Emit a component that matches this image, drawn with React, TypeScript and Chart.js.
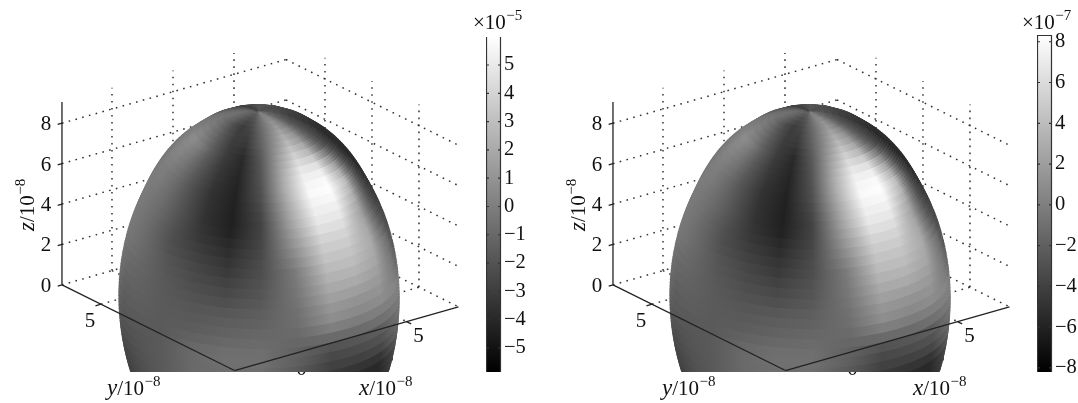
import React, { useEffect, useRef } from "react";
import { Chart, registerables } from "chart.js";

Chart.register(...registerables);

const SERIF = '"Liberation Serif", serif';

// box ranges (units of 10^-8), read from the wall grids
const xRange = [-9.1, 9.26];
const yRange = [-9.2, 9.15];
const zTop = 9.05;
const zTicks = [0, 2, 4, 6, 8];
const xyTicks = [-5, 0, 5];
const sphereRadius = 9.15;
const sphereHeight = 9.13;
const xTickLabels = [
  { at: 5, text: "5" },
  { at: -5, text: "0" },
];
const yTickLabels = [{ at: 5, text: "5" }];

// surface: rows are latitude bands, columns are longitudes facing the viewer
const latitudes = [87, 84, 81, 78, 75, 72, 69, 66, 63, 60, 57, 54, 51, 48, 45, 42, 39, 36, 33, 30, 27, 24, 21, 18, 15, 12, 9, 6, 3, 0, -3, -6, -9, -12, -15, -18, -21, -24];
const longitudes = [-90, -75, -60, -45, -30, -15, 0, 15, 30, 45, 60, 75, 90];
const surfaceShades = [
  [120, 110, 100, 95, 95, 100, 120, 130, 125, 110, 100, 100, 100],
  [120, 110, 98, 90, 85, 90, 110, 130, 132, 115, 97, 92, 88],
  [120, 110, 97, 85, 76, 82, 106, 130, 140, 120, 95, 85, 78],
  [120, 110, 96, 80, 68, 76, 103, 130, 148, 125, 92, 77, 68],
  [120, 110, 95, 75, 60, 70, 100, 130, 155, 130, 90, 70, 60],
  [123, 116, 101, 79, 60, 65, 98, 134, 165, 139, 92, 68, 56],
  [126, 122, 107, 83, 61, 60, 96, 138, 175, 148, 94, 66, 52],
  [129, 128, 113, 87, 60, 55, 94, 142, 185, 157, 96, 64, 48],
  [132, 134, 119, 89, 60, 48, 90, 148, 197, 170, 100, 62, 44],
  [135, 140, 125, 92, 60, 42, 87, 154, 209, 185, 108, 60, 40],
  [133, 137, 122, 90, 58, 40, 85, 160, 220, 205, 128, 62, 40],
  [131, 134, 119, 88, 56, 38, 83, 166, 232, 225, 148, 65, 40],
  [129, 131, 116, 86, 54, 36, 82, 170, 240, 240, 165, 68, 40],
  [127, 128, 113, 84, 52, 35, 80, 172, 245, 250, 178, 72, 40],
  [125, 125, 110, 82, 50, 34, 78, 170, 248, 253, 188, 76, 40],
  [125, 124, 109, 82, 50, 33, 74, 166, 243, 248, 182, 76, 44],
  [125, 122, 108, 82, 50, 32, 70, 162, 238, 240, 174, 76, 49],
  [125, 120, 107, 82, 50, 32, 67, 158, 232, 232, 166, 76, 54],
  [124, 119, 105, 80, 52, 34, 68, 152, 223, 222, 162, 80, 58],
  [123, 118, 103, 78, 55, 40, 70, 146, 212, 212, 165, 85, 62],
  [122, 117, 102, 78, 60, 46, 73, 138, 203, 204, 168, 92, 66],
  [121, 116, 102, 80, 65, 52, 76, 130, 195, 196, 170, 102, 70],
  [120, 115, 102, 84, 70, 58, 78, 122, 187, 189, 168, 112, 75],
  [118, 112, 101, 86, 74, 65, 82, 120, 178, 180, 165, 116, 83],
  [115, 108, 100, 88, 78, 72, 85, 118, 169, 170, 159, 120, 91],
  [112, 104, 98, 89, 82, 79, 89, 115, 160, 158, 153, 123, 100],
  [110, 100, 97, 90, 86, 87, 94, 112, 150, 146, 147, 127, 110],
  [106, 96, 95, 90, 89, 93, 98, 110, 142, 137, 141, 133, 122],
  [102, 93, 93, 90, 92, 98, 103, 106, 127, 124, 127, 128, 126],
  [98, 90, 90, 90, 97, 104, 107, 102, 106, 107, 112, 120, 122],
  [93, 87, 87, 90, 103, 110, 111, 97, 83, 87, 93, 110, 118],
  [87, 82, 85, 90, 105, 112, 112, 95, 72, 76, 82, 103, 112],
  [82, 78, 84, 90, 105, 110, 110, 90, 65, 65, 70, 95, 103],
  [76, 74, 82, 90, 105, 108, 105, 85, 58, 52, 52, 80, 92],
  [70, 70, 80, 90, 100, 105, 100, 80, 50, 42, 40, 65, 80],
  [68, 68, 78, 88, 95, 100, 95, 75, 45, 38, 38, 60, 74],
  [66, 66, 76, 85, 92, 95, 90, 70, 42, 36, 36, 55, 70],
  [65, 64, 74, 82, 90, 90, 85, 65, 40, 35, 35, 52, 66],
];
const farSideShades = [60, 85, 75];

const leftBarRange: [number, number] = [-5.85, 5.99];
const rightBarRange: [number, number] = [-8.2, 8.33];

const plotOffsets = [0, 551];

const gray = (v: number) => `rgb(${v},${v},${v})`;
const rad = (d: number) => (d * Math.PI) / 180;

function project(x: number, y: number, z: number, dx: number) {
  return {
    x: 259 + dx + 12.2 * x - 9.4 * y,
    y: 296 - 3.47 * x - 4.67 * y - 20.2 * z,
  };
}

function ringPoint(lat: number, lon: number, dx: number) {
  const r = sphereRadius * Math.cos(rad(lat));
  const c = Math.cos(rad(lon));
  const s = Math.sin(rad(lon));
  return project(r * (-0.596 * c + 0.792 * s), r * (-0.802 * c - 0.61 * s), sphereHeight * Math.sin(rad(lat)), dx);
}

function lineSet(a: any, b: any, style: any) {
  return { type: "line", data: [a, b], pointRadius: 0, fill: false, tension: 0, ...style };
}

function buildDatasets(dx: number) {
  const dotted = { borderColor: "#333", borderWidth: 1.5, borderDash: [1.6, 5.4] };
  const solid = { borderColor: "#222", borderWidth: 1.3 };
  const [x0, x1] = xRange;
  const [y0, y1] = yRange;
  const grid: any[] = [];
  for (const z of zTicks) {
    grid.push(lineSet(project(x0, y1, z, dx), project(x1, y1, z, dx), dotted));
    grid.push(lineSet(project(x1, y1, z, dx), project(x1, y0, z, dx), dotted));
  }
  for (const t of xyTicks) {
    grid.push(lineSet(project(t, y1, 0, dx), project(t, y1, zTop, dx), dotted));
    grid.push(lineSet(project(x1, t, 0, dx), project(x1, t, zTop, dx), dotted));
    grid.push(lineSet(project(t, y1, 0, dx), project(t, y0, 0, dx), dotted));
    grid.push(lineSet(project(x0, t, 0, dx), project(x1, t, 0, dx), dotted));
    grid.push(lineSet(project(x0, t, 0, dx), project(x0 - 0.45, t, 0, dx), solid));
    grid.push(lineSet(project(t, y0, 0, dx), project(t, y0 - 0.5, 0, dx), solid));
  }
  const surface: any[] = [];
  const reversedRows = latitudes.map((lat, i) => ({ lat, row: surfaceShades[i] })).reverse();
  const backLons = [-90, -112.5, -135, -157.5, -180, -202.5, -225, -247.5, -270];
  const frontLons = [-90, -82.5, -75, -67.5, -60, -52.5, -45, -37.5, -30, -22.5, -15, -7.5, 0, 7.5, 15, 22.5, 30, 37.5, 45, 52.5, 60, 67.5, 75, 82.5, 90];
  for (const { lat: bandLat, row } of reversedRows) {
    // each band keeps one row of shades; it is drawn as three thin layers so its edge stays smooth
    for (const lat of [bandLat, bandLat + 1, bandLat + 2]) {
      const backPts = backLons.map((l) => ringPoint(lat, l, dx));
      const frontPts = frontLons.map((l) => ringPoint(lat, l, dx));
      // the x scale spans the canvas width, so one view unit is width / 1078 pixels
      const backPaint = (c: any) => {
        const k = c.chart.width / 1078;
        const g = c.chart.ctx.createLinearGradient(backPts[0].x * k, 0, backPts[8].x * k, 0);
        g.addColorStop(0, gray(row[0]));
        farSideShades.forEach((v, i) => g.addColorStop((i + 1) / 4, gray(v)));
        g.addColorStop(1, gray(row[12]));
        return g;
      };
      const frontPaint = (c: any) => {
        const k = c.chart.width / 1078;
        const L = frontPts[0].x;
        const R = frontPts[24].x;
        const g = c.chart.ctx.createLinearGradient(L * k, 0, R * k, 0);
        longitudes.forEach((lon, i) => {
          const p = ringPoint(lat, lon, dx);
          g.addColorStop(Math.min(1, Math.max(0, (p.x - L) / (R - L))), gray(row[i]));
        });
        return g;
      };
      surface.push({ type: "line", data: backPts, pointRadius: 0, borderWidth: 0, tension: 0, fill: "shape", backgroundColor: backPaint });
      surface.push({ type: "line", data: frontPts, pointRadius: 0, borderWidth: 0, tension: 0, fill: "shape", backgroundColor: frontPaint });
    }
  }
  const axes: any[] = [
    lineSet(project(x0, y1, 0, dx), project(x0, y1, zTop, dx), solid),
    lineSet(project(x0, y1, 0, dx), project(x0, y0, 0, dx), solid),
    lineSet(project(x0, y0, 0, dx), project(x1, y0, 0, dx), solid),
  ];
  for (const z of zTicks) axes.push(lineSet(project(x0, y1, z, dx), project(x0 - 0.35, y1, z, dx), solid));
  return [...grid, ...surface, ...axes];
}

function sciText(ctx: CanvasRenderingContext2D, name: string | null, base: string, exp: string, x: number, y: number) {
  ctx.textAlign = "left";
  ctx.textBaseline = "alphabetic";
  let cx = x;
  if (name) {
    ctx.font = `italic 23px ${SERIF}`;
    ctx.fillText(name, cx, y);
    cx += ctx.measureText(name).width;
  }
  ctx.font = `21px ${SERIF}`;
  ctx.fillText(base, cx, y);
  cx += ctx.measureText(base).width;
  ctx.font = `15px ${SERIF}`;
  ctx.fillText(exp, cx + 0.5, y - 9);
}

const textPlugin = {
  id: "plotText",
  beforeDatasetsDraw(chart: any) {
    const ctx: CanvasRenderingContext2D = chart.ctx;
    const xs = chart.scales.x;
    const ys = chart.scales.y;
    ctx.save();
    ctx.fillStyle = "#111";
    plotOffsets.forEach((dx) => {
      ctx.font = `21px ${SERIF}`;
      ctx.textAlign = "center";
      ctx.textBaseline = "alphabetic";
      for (const z of zTicks) {
        const p = project(xRange[0], yRange[1], z, dx);
        ctx.fillText(String(z), xs.getPixelForValue(p.x) - 16, ys.getPixelForValue(p.y) + 7);
      }
      for (const l of xTickLabels) {
        const a = project(l.at, yRange[0], 0, dx);
        ctx.fillText(l.text, xs.getPixelForValue(a.x) + (l.at < 0 ? 17 : 12), ys.getPixelForValue(a.y) + (l.at < 0 ? 18.5 : 20.5));
      }
      for (const l of yTickLabels) {
        const b = project(xRange[0], l.at, 0, dx);
        ctx.fillText(l.text, xs.getPixelForValue(b.x) - 11, ys.getPixelForValue(b.y) + 22.5);
      }
      sciText(ctx, "y", "/10", "\u22128", 107 + dx + (dx ? 4 : 0), 395);
      sciText(ctx, "x", "/10", "\u22128", 359 + dx + (dx ? 3 : 0), 395);
      ctx.save();
      ctx.translate(34 + dx, 231);
      ctx.rotate(-Math.PI / 2);
      sciText(ctx, "z", "/10", "\u22128", 0, 0);
      ctx.restore();
    });
    sciText(ctx, null, "\u00d710", "\u22125", 473, 29);
    sciText(ctx, null, "\u00d710", "\u22127", 1022, 29);
    ctx.restore();
  },
};

function makeBar(canvas: HTMLCanvasElement, range: [number, number], step: number, topLine: boolean) {
  const barFrame = {
    id: "barFrame",
    afterDatasetsDraw(chart: any) {
      const { ctx, chartArea: a, scales } = chart;
      ctx.save();
      ctx.strokeStyle = "#333";
      ctx.lineWidth = 1.2;
      ctx.beginPath();
      ctx.moveTo(a.left + 0.5, a.top);
      ctx.lineTo(a.left + 0.5, a.bottom);
      ctx.moveTo(a.right - 0.5, a.top);
      ctx.lineTo(a.right - 0.5, a.bottom);
      if (topLine) {
        ctx.moveTo(a.left, a.top + 0.5);
        ctx.lineTo(a.right, a.top + 0.5);
      }
      for (const t of scales.y.ticks) {
        const y = scales.y.getPixelForValue(t.value);
        ctx.moveTo(a.left, y);
        ctx.lineTo(a.left + 3, y);
        ctx.moveTo(a.right - 3, y);
        ctx.lineTo(a.right, y);
      }
      ctx.stroke();
      ctx.restore();
    },
  };
  return new Chart(canvas, {
    type: "bar",
    data: {
      labels: [""],
      datasets: [
        {
          data: [range as any],
          barPercentage: 1,
          categoryPercentage: 1,
          backgroundColor: (c: any) => {
            const a = c.chart.chartArea;
            if (!a) return "#888";
            const g = c.chart.ctx.createLinearGradient(0, a.bottom, 0, a.top);
            g.addColorStop(0, "#000");
            g.addColorStop(1, "#fff");
            return g;
          },
        },
      ],
    },
    options: {
      responsive: false,
      animation: false,
      layout: { padding: { top: canvas.dataset.top ? Number(canvas.dataset.top) : 0, bottom: 31, left: 0, right: 0 } },
      plugins: { legend: { display: false }, tooltip: { enabled: false } },
      scales: {
        x: { display: false, offset: true },
        y: {
          position: "right",
          min: range[0],
          max: range[1],
          afterFit: (s: any) => {
            s.width = 38;
          },
          border: { display: false },
          grid: { display: false, drawTicks: false },
          ticks: {
            stepSize: step,
            includeBounds: false,
            padding: 3,
            color: "#111",
            font: { family: "Liberation Serif", size: 20.5 },
            callback: (v: any) => String(v).replace("-", "\u2212"),
          },
        },
      },
    },
    plugins: [barFrame],
  } as any);
}

export default function App() {
  const mainRef = useRef<HTMLCanvasElement>(null);
  const leftRef = useRef<HTMLCanvasElement>(null);
  const rightRef = useRef<HTMLCanvasElement>(null);

  useEffect(() => {
    document.body.style.margin = "0";
    document.body.style.background = "#fff";
    const ordered = plotOffsets.flatMap((dx) => buildDatasets(dx));
    const n = ordered.length;
    const datasets = ordered.map((d, i) => ({ ...d, order: n - i }));
    const main = new Chart(mainRef.current!, {
      type: "line",
      data: { datasets },
      options: {
        responsive: false,
        animation: false,
        layout: { padding: { top: 0, left: 0, right: 0, bottom: 31.3 } },
        plugins: { legend: { display: false }, tooltip: { enabled: false } },
        scales: {
          x: { type: "linear", display: false, min: 0, max: 1078 },
          y: { type: "linear", display: false, min: 0, max: 371.7, reverse: true },
        },
      },
      plugins: [textPlugin],
    } as any);
    const left = makeBar(leftRef.current!, leftBarRange, 1, false);
    const right = makeBar(rightRef.current!, rightBarRange, 2, true);
    return () => {
      main.destroy();
      left.destroy();
      right.destroy();
    };
  }, []);

  const base: React.CSSProperties = { position: "absolute", top: 0, filter: "blur(0.45px)" };
  return (
    <div style={{ position: "relative", width: 1078, height: 403, overflow: "hidden", background: "#fff" }}>
      <canvas ref={mainRef} width={1078} height={403} style={{ ...base, left: 0 }} />
      <canvas ref={leftRef} width={53} height={403} data-top="37" style={{ ...base, left: 486 }} />
      <canvas ref={rightRef} width={53} height={403} data-top="35" style={{ ...base, left: 1037 }} />
    </div>
  );
}
